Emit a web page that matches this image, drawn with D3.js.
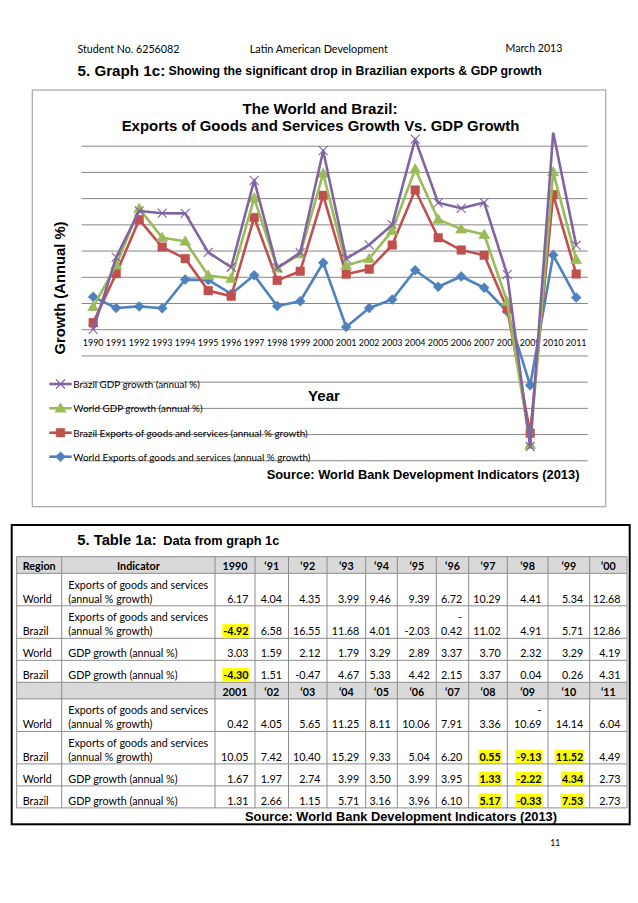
<!DOCTYPE html>
<html><head><meta charset="utf-8">
<script src="https://cdn.jsdelivr.net/npm/d3@7"></script>
<style>body{margin:0;background:#fff}svg{display:block}</style>
</head><body>
<svg id="page" width="638" height="903"></svg>
<script>
// ---------------- DATA ----------------
const years = [1990,1991,1992,1993,1994,1995,1996,1997,1998,1999,2000,2001,2002,2003,2004,2005,2006,2007,2008,2009,2010,2011];
const worldExports  = [6.17,4.04,4.35,3.99,9.46,9.39,6.72,10.29,4.41,5.34,12.68,0.42,4.05,5.65,11.25,8.11,10.06,7.91,3.36,-10.69,14.14,6.04];
const brazilExports = [-4.92,6.58,16.55,11.68,4.01,-2.03,-0.42,11.02,4.91,5.71,12.86,10.05,7.42,10.40,15.29,9.33,5.04,6.20,0.55,-9.13,11.52,4.49];
const worldGDP      = [3.03,1.59,2.12,1.79,3.29,2.89,3.37,3.70,2.32,3.29,4.19,1.67,1.97,2.74,3.99,3.50,3.99,3.95,1.33,-2.22,4.34,2.73];
const brazilGDP     = [-4.30,1.51,-0.47,4.67,5.33,4.42,2.15,3.37,0.04,0.26,4.31,1.31,2.66,1.15,5.71,3.16,3.96,6.10,5.17,-0.33,7.53,2.73];
const seriesLabels = ["World Exports of goods and services (annual % growth)",
                      "Brazil Exports of goods and services (annual % growth)",
                      "World GDP growth (annual %)",
                      "Brazil GDP growth (annual %)"];
const yTicks = [-25,-20,-15,-10,-5,0,5,10,15,20,25,30,35];
const tableHead1 = ["1990","‘91","‘92","‘93","‘94","‘95","‘96","‘97","‘98","‘99","‘00"];
const tableHead2 = ["2001","‘02","‘03","‘04","‘05","‘06","‘07","‘08","‘09","‘10","‘11"];
const tableRegions = ["World","Brazil","World","Brazil"];
const tableIndicators = [["Exports of goods and services","(annual % growth)"],
                         ["Exports of goods and services","(annual % growth)"],
                         ["GDP growth (annual %)"],
                         ["GDP growth (annual %)"]];
const highlightedYears = [[],[1990,2008,2009,2010],[2008,2009,2010],[1990,2008,2009,2010]];

// ---------------- HELPERS ----------------
const svg = d3.select('#page');
const SANS = "Lato, 'Open Sans', sans-serif";
const ARIAL = "'Liberation Sans', Arial, sans-serif";
function fitW(t, w){
  const L = t.node().getComputedTextLength();
  const fs = parseFloat(t.attr('font-size'));
  if (L > 0) t.attr('font-size', (fs*w/L).toFixed(2));
  return t;
}
function addText(parent, str, x, y, o={}){
  const t = parent.append('text').attr('x',x).attr('y',y)
    .attr('font-family', o.family||SANS).attr('font-size', o.size||10)
    .attr('font-weight', o.weight||'normal').attr('fill', o.fill||'#000')
    .attr('text-anchor', o.anchor||'start').attr('dominant-baseline','central').text(str);
  if (o.width) fitW(t, o.width);
  return t;
}

// ---------------- PAGE HEADER ----------------
addText(svg,"Student No. 6256082",77.5,48.4,{width:102});
addText(svg,"Latin American Development",249.8,48.4,{width:138});
addText(svg,"March 2013",562.4,48.4,{anchor:'end',width:57});
addText(svg,"5. Graph 1c:",77.5,70.8,{family:ARIAL,weight:'bold',width:87.8,size:14});
addText(svg,"Showing the significant drop in Brazilian exports & GDP growth",168.6,71.3,{family:ARIAL,weight:'bold',width:373.4,size:11});

// ---------------- CHART ----------------
const chart = svg.append('g');
chart.append('rect').attr('x',32.3).attr('y',90).attr('width',573.4).attr('height',416.7)
  .attr('fill','#fff').attr('stroke','#a6a6a6').attr('stroke-width',1.2);

addText(chart,"The World and Brazil:",320,108,{family:ARIAL,weight:'bold',anchor:'middle',width:155,size:14});
addText(chart,"Exports of Goods and Services Growth Vs. GDP Growth",320.5,125,{family:ARIAL,weight:'bold',anchor:'middle',width:398,size:14});

const plotL = 81.7, plotR = 587.7;
const x = d3.scaleBand().domain(years).range([plotL, plotR]);
const xc = d => x(d) + x.bandwidth()/2;
const y = d3.scaleLinear().domain([-25,35]).range([460.3,145.7]);
const plotTopVal = 37.5;

// gridlines
const grid = chart.append('g').attr('transform',`translate(${plotL},0)`)
  .call(d3.axisLeft(y).tickValues(yTicks).tickSize(-(plotR-plotL)).tickFormat(''));
grid.select('.domain').remove();
grid.selectAll('.tick line').attr('stroke','#868686').attr('stroke-width',1);

// x axis labels
const xa = chart.append('g').attr('transform',`translate(0,${y(0)})`)
  .call(d3.axisBottom(x).tickSize(0));
xa.select('.domain').remove();
xa.selectAll('.tick text').attr('y',13).attr('dy',null).attr('dominant-baseline','central')
  .attr('font-family',SANS).attr('font-size',9).attr('fill','#000');
{
  const first = xa.select('.tick text');
  const L = first.node().getComputedTextLength();
  xa.selectAll('.tick text').attr('font-size', (9*20.7/L).toFixed(2));
}

// stacked series
const rows = years.map((yr,i)=>({year:yr, we:worldExports[i], be:brazilExports[i], wg:worldGDP[i], bg:brazilGDP[i]}));
const keys = ['we','be','wg','bg'];
const stacked = d3.stack().keys(keys).offset(d3.stackOffsetNone)(rows);
const colors = {we:'#4F81BD', be:'#C0504D', wg:'#9BBB59', bg:'#8064A2'};
const markerPath = {
  we: 'M0,-5L5,0L0,5L-5,0Z',
  be: 'M-4.3,-4.3L4.3,-4.3L4.3,4.3L-4.3,4.3Z',
  wg: 'M0,-5.6L5.6,4L-5.6,4Z',
  bg: 'M-4.5,-4.5L4.5,4.5M-4.5,4.5L4.5,-4.5'
};
function drawMarker(g, key, cx, cy){
  const p = g.append('path').attr('d', markerPath[key]).attr('transform',`translate(${cx},${cy})`);
  if (key === 'bg') p.attr('fill','none').attr('stroke','#8064A2').attr('stroke-width',1.1);
  else p.attr('fill',colors[key]).attr('stroke',colors[key]).attr('stroke-width',0.5);
}

svg.append('defs').append('clipPath').attr('id','plotclip').append('rect')
  .attr('x',40).attr('y',y(plotTopVal)).attr('width',590).attr('height',y(-25)-y(plotTopVal)+20);
const plot = chart.append('g').attr('clip-path','url(#plotclip)');
const line = d3.line().x(d=>xc(d.data.year)).y(d=>y(d[1]));
stacked.forEach(s=>{
  plot.append('path').datum(s).attr('d',line).attr('fill','none')
    .attr('stroke',colors[s.key]).attr('stroke-width',2.6).attr('stroke-linejoin','round');
  const mg = plot.append('g');
  s.forEach(d=>{ if (d[1] <= plotTopVal) drawMarker(mg, s.key, xc(d.data.year), y(d[1])); });
});

// axis titles
addText(chart,"Year",324,395,{family:ARIAL,weight:'bold',anchor:'middle',width:32,size:15});
const yt = addText(chart,"Growth (Annual %)",0,0,{family:ARIAL,weight:'bold',anchor:'middle',width:133,size:13});
yt.attr('transform','translate(60,288) rotate(-90)');

// legend
const legendOrder = ['bg','wg','be','we'];
const legendY = [384,408.3,432.7,456.7];
const lg = chart.append('g');
let legendSize = null;
legendOrder.forEach((k,i)=>{
  const ly = legendY[i];
  lg.append('line').attr('x1',49.3).attr('x2',71.7).attr('y1',ly).attr('y2',ly)
    .attr('stroke',colors[k]).attr('stroke-width',2.6);
  drawMarker(lg, k, 60.5, ly);
  const t = addText(lg, seriesLabels[keys.indexOf(k)], 73.3, ly, {size:10});
  if (legendSize === null){ fitW(t,126.7); legendSize = t.attr('font-size'); }
  else t.attr('font-size', legendSize);
});

addText(chart,"Source: World Bank Development Indicators (2013)",266.7,474.3,{family:ARIAL,weight:'bold',width:312.7,size:12});

// ---------------- TABLE ----------------
addText(svg,"5. Table 1a:",77.3,539.5,{family:ARIAL,weight:'bold',width:79.4,size:14});
addText(svg,"Data from graph 1c",163.3,540.3,{family:ARIAL,weight:'bold',width:116,size:11});

const colEdges = [16.7,61.7,215,255,288.5,327,365.7,397.3,436.3,468.7,507.3,548,589.7,627];
const tbl = svg.append('g');
const tmp = addText(tbl,"Exports of goods and services",0,-50,{size:10});
fitW(tmp,140);
const cellSize = tmp.attr('font-size');
tmp.remove();
const tableSeries = [worldExports, brazilExports, worldGDP, brazilGDP];
const hLines = [], highlightGroup = tbl.append('g'), textGroup = tbl.append('g');

function drawBlock(top, heads, block){
  const headH = 16.6;
  tbl.insert('rect',':first-child').attr('x',colEdges[0]).attr('y',top).attr('width',colEdges[13]-colEdges[0])
    .attr('height',headH).attr('fill','#d9d9d9');
  const headLabels = block===0 ? ["Region","Indicator"].concat(heads) : ["",""].concat(heads);
  headLabels.forEach((h,c)=>{
    if (!h) return;
    addText(textGroup,h,(colEdges[c]+colEdges[c+1])/2,top+9,{weight:'bold',size:cellSize,anchor:'middle'});
  });
  hLines.push(top);
  let yTop = top + headH;
  hLines.push(yTop);
  tableSeries.forEach((ser,r)=>{
    const lines = tableIndicators[r];
    const h = lines.length===2 ? 32.5 : 22;
    const bottom = yTop + h;
    const lastY = bottom - 7.5;
    addText(textGroup,tableRegions[r],22.7,lastY,{size:cellSize});
    lines.forEach((ln,li)=>{
      addText(textGroup,ln,68.3,lastY-(lines.length-1-li)*14,{size:cellSize});
    });
    for (let c=0;c<11;c++){
      const idx = block*11 + c;
      const yr = years[idx];
      const v = ser[idx];
      const hl = highlightedYears[r].includes(yr);
      const colL = colEdges[c+2], colR = colEdges[c+3];
      const xr = colR - 6.5;
      let str = v.toFixed(2);
      const t = addText(textGroup,str,xr,lastY,{size:cellSize,anchor:'end',weight:hl?'bold':'normal'});
      if (str[0]==='-' && t.node().getComputedTextLength() > (colR-colL-13)){
        t.text(str.slice(1));
        addText(textGroup,'-',xr,lastY-14,{size:cellSize,anchor:'end'});
      }
      if (hl){
        const bb = t.node().getBBox();
        highlightGroup.append('rect').attr('x',bb.x-1).attr('y',lastY-6.7)
          .attr('width',bb.width+2).attr('height',13.4).attr('fill','#ffff00');
      }
    }
    yTop = bottom;
    hLines.push(yTop);
  });
  return yTop;
}
const end1 = drawBlock(556.7, tableHead1, 0);
const end2 = drawBlock(end1, tableHead2, 1);

const gridG = tbl.insert('g', ':nth-child(3)');
Array.from(new Set(hLines.map(v=>v.toFixed(2)))).forEach(v=>{
  gridG.append('line').attr('x1',colEdges[0]).attr('x2',colEdges[13]).attr('y1',+v).attr('y2',+v)
    .attr('stroke','#8c8c8c').attr('stroke-width',1);
});
colEdges.forEach(cx=>{
  gridG.append('line').attr('x1',cx).attr('x2',cx).attr('y1',556.7).attr('y2',end2)
    .attr('stroke','#8c8c8c').attr('stroke-width',1);
});

addText(svg,"Source: World Bank Development Indicators (2013)",245,816.7,{family:ARIAL,weight:'bold',width:312,size:12});
svg.append('rect').attr('x',11.7).attr('y',525).attr('width',618).attr('height',299.3)
  .attr('fill','none').attr('stroke','#000').attr('stroke-width',2);

addText(svg,"11",555.3,843.3,{anchor:'middle',width:10,size:10});
</script>
</body></html>
